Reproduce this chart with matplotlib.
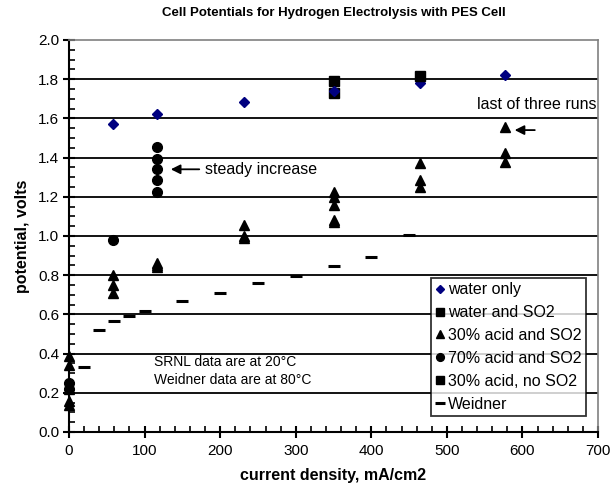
import matplotlib
matplotlib.use("Agg")
import matplotlib.pyplot as plt
from matplotlib.ticker import MultipleLocator

plt.rcParams['font.family'] = ['Liberation Sans', 'DejaVu Sans']

# data
water_x = [58, 116, 232, 350, 465, 577]
water_y = [1.57, 1.62, 1.685, 1.74, 1.78, 1.82]

water_so2_x = [350, 350]
water_so2_y = [1.79, 1.73]

acid30_x = [0, 0, 0, 0, 0, 58, 58, 58, 116, 116, 116, 232, 232, 232,
            350, 350, 350, 350, 350, 465, 465, 465, 577, 577, 577]
acid30_y = [0.39, 0.34, 0.22, 0.16, 0.14, 0.80, 0.75, 0.71, 0.86, 0.85, 0.84,
            1.055, 1.00, 0.99, 1.225, 1.20, 1.16, 1.08, 1.07, 1.37, 1.285, 1.25,
            1.555, 1.425, 1.375]

acid70_x = [0, 0, 58, 116, 116, 116, 116, 116]
acid70_y = [0.25, 0.22, 0.98, 1.455, 1.39, 1.34, 1.283, 1.222]

acid30_noso2_x = [465]
acid30_noso2_y = [1.815]

weidner_x = [20, 40, 60, 80, 100, 150, 200, 250, 300, 350, 400, 450]
weidner_y = [0.33, 0.52, 0.565, 0.59, 0.615, 0.67, 0.71, 0.76, 0.795, 0.845, 0.895, 1.005]

fig = plt.figure(figsize=(6.14, 4.99), dpi=100)
ax = fig.add_axes([0.1124, 0.1343, 0.8616, 0.7857])

for y in [0.2, 0.4, 0.6, 0.8, 1.0, 1.2, 1.4, 1.6, 1.8]:
    ax.axhline(y, color='black', lw=1.3, zorder=1)

ax.plot(weidner_x, weidner_y, ls='none', marker='_', ms=9, mew=2.2, color='black',
        label='Weidner', zorder=3, clip_on=False)
ax.plot(acid30_x, acid30_y, ls='none', marker='^', ms=7, color='black',
        label='30% acid and SO2', zorder=3, clip_on=False)
ax.plot(acid70_x, acid70_y, ls='none', marker='o', ms=7, color='black',
        label='70% acid and SO2', zorder=3, clip_on=False)
ax.plot(water_x, water_y, ls='none', marker='D', ms=5.5, color='#000080',
        label='water only', zorder=4)
ax.plot(water_so2_x, water_so2_y, ls='none', marker='s', ms=7, color='black',
        label='water and SO2', zorder=3)
ax.plot(acid30_noso2_x, acid30_noso2_y, ls='none', marker='s', ms=7.5, mfc='black',
        mec='black', label='30% acid, no SO2', zorder=5)

ax.set_xlim(0, 700)
ax.set_ylim(0, 2.0)
ax.xaxis.set_major_locator(MultipleLocator(100))
ax.xaxis.set_minor_locator(MultipleLocator(20))
ax.yaxis.set_major_locator(MultipleLocator(0.2))
ax.yaxis.set_minor_locator(MultipleLocator(0.05))
ax.yaxis.set_major_formatter(plt.FuncFormatter(lambda v, p: f"{v:.1f}"))
ax.tick_params(which='major', direction='inout', length=8, width=1.5, labelsize=11)
ax.tick_params(which='minor', direction='in', length=4, width=1.2)
ax.tick_params(axis='x', pad=5)
ax.tick_params(axis='y', pad=3)

for s in ['left', 'bottom']:
    ax.spines[s].set_linewidth(1.5)
for s in ['top', 'right']:
    ax.spines[s].set_color('#808080')
    ax.spines[s].set_linewidth(1.2)

ax.set_title('Cell Potentials for Hydrogen Electrolysis with PES Cell',
             fontsize=9.5, fontweight='bold', pad=17)
ax.set_xlabel('current density, mA/cm2', fontsize=11.5, fontweight='bold', labelpad=7)
ax.set_ylabel('potential, volts', fontsize=11.5, fontweight='bold', labelpad=6)

ax.annotate('', xy=(131, 1.34), xytext=(176, 1.34),
            arrowprops=dict(arrowstyle='-|>', color='black', lw=1.3, mutation_scale=14))
ax.text(180, 1.34, 'steady increase', fontsize=11.5, va='center')
ax.annotate('', xy=(586, 1.54), xytext=(620, 1.54),
            arrowprops=dict(arrowstyle='-|>', color='black', lw=1.3, mutation_scale=14))
ax.text(698, 1.67, 'last of three runs', fontsize=11.5, va='center', ha='right')
ax.text(112, 0.355, 'SRNL data are at 20\u00b0C', fontsize=10, va='center')
ax.text(112, 0.265, 'Weidner data are at 80\u00b0C', fontsize=10, va='center')

handles, labels = ax.get_legend_handles_labels()
order = ['water only', 'water and SO2', '30% acid and SO2', '70% acid and SO2',
         '30% acid, no SO2', 'Weidner']
hl = dict(zip(labels, handles))
leg = ax.legend([hl[k] for k in order], order, loc='lower right',
                bbox_to_anchor=(0.977, 0.042), fontsize=11.5, frameon=True, fancybox=False,
                handlelength=0.6, handletextpad=0.25, borderpad=0.25, labelspacing=0.49,
                borderaxespad=0.0, markerscale=0.8)
leg.get_frame().set_edgecolor('black')
leg.get_frame().set_linewidth(1.3)
leg.set_zorder(10)

fig.savefig('out.png', dpi=100)
